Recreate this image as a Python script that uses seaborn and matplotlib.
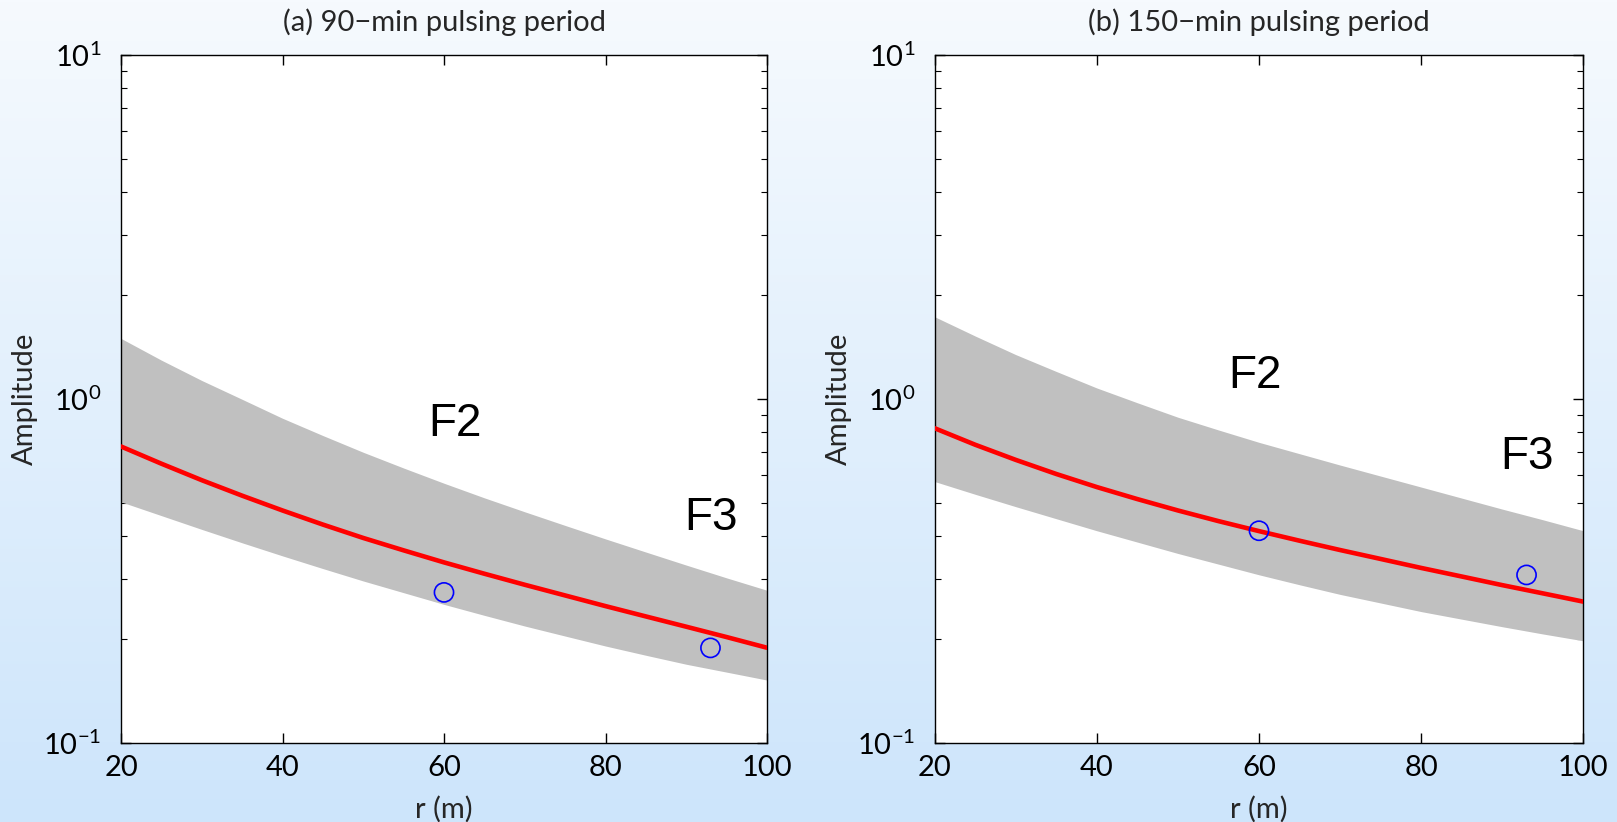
import numpy as np
import pandas as pd
import matplotlib
matplotlib.use("Agg")
import matplotlib.pyplot as plt
import seaborn as sns
from matplotlib.colors import LinearSegmentedColormap
from matplotlib.ticker import LogLocator, FixedLocator

# Radial distance grid (m)
r_grid = [20, 25, 30, 35, 40, 45, 50, 55, 60, 65, 70, 75, 80, 85, 90, 95, 100]

# (a) 90-min pulsing period: fitted amplitude and its uncertainty band
amp_a_fit = [0.7278, 0.6486, 0.5808, 0.5236, 0.4742, 0.4315, 0.3945, 0.3631,
             0.3350, 0.3105, 0.2884, 0.2685, 0.2500, 0.2333, 0.2178, 0.2032,
             0.1892]
amp_a_upper = [1.500, 1.297, 1.132, 0.998, 0.879, 0.783, 0.700, 0.630,
               0.569, 0.516, 0.470, 0.429, 0.392, 0.359, 0.329, 0.302, 0.278]
amp_a_lower = [0.5023, 0.4581, 0.4178, 0.3819, 0.3499, 0.3214, 0.2958, 0.2735,
               0.2529, 0.2350, 0.2188, 0.2046, 0.1914, 0.1799, 0.1694, 0.1607,
               0.1524]

# (b) 150-min pulsing period
amp_b_fit = [0.8222, 0.7362, 0.6653, 0.6053, 0.5546, 0.5117, 0.4742, 0.4416,
             0.4130, 0.3873, 0.3639, 0.3428, 0.3228, 0.3048, 0.2877, 0.2723,
             0.2576]
amp_b_upper = [1.7338, 1.5241, 1.3459, 1.2023, 1.0765, 0.9750, 0.8851, 0.8128,
               0.7482, 0.6934, 0.6427, 0.5970, 0.5546, 0.5152, 0.4786, 0.4457,
               0.4140]
amp_b_lower = [0.5754, 0.5284, 0.4864, 0.4487, 0.4140, 0.3837, 0.3556, 0.3311,
               0.3083, 0.2884, 0.2704, 0.2553, 0.2410, 0.2291, 0.2178, 0.2075,
               0.1982]

# Observation wells F2 and F3
well_names = ["F2", "F3"]
well_r = [60, 93]
obs_a = [0.274, 0.189]
obs_b = [0.414, 0.308]

# Well label anchor positions (r, amplitude)
label_pos_a = [(61.4, 0.846), (93.1, 0.45)]
label_pos_b = [(59.5, 1.168), (93.0, 0.68)]

titles = ["(a) 90\u2212min pulsing period", "(b) 150\u2212min pulsing period"]
x_ticks = [20, 40, 60, 80, 100]

sns.set_style("ticks")
plt.rcParams["font.family"] = ["Lato", "DejaVu Sans"]
plt.rcParams["mathtext.fontset"] = "custom"
plt.rcParams["mathtext.rm"] = "Lato"
plt.rcParams["mathtext.default"] = "regular"

fig = plt.figure(figsize=(16.17, 8.22), dpi=100)

# Soft vertical gradient behind both panels
bg = fig.add_axes([0, 0, 1, 1], zorder=-10)
grad = np.linspace(0, 1, 256).reshape(-1, 1)
cmap = LinearSegmentedColormap.from_list("bgblue", ["#f6fafe", "#cde5fb"])
bg.imshow(grad, aspect="auto", cmap=cmap, extent=[0, 1, 0, 1], origin="upper")
bg.set_axis_off()

panels = [
    (amp_a_fit, amp_a_upper, amp_a_lower, obs_a, label_pos_a, titles[0]),
    (amp_b_fit, amp_b_upper, amp_b_lower, obs_b, label_pos_b, titles[1]),
]
axes_rects = [[121 / 1617, 1 - 743 / 822, 646 / 1617, 688 / 822],
              [934.7 / 1617, 1 - 743 / 822, 648.6 / 1617, 688 / 822]]

for rect, (fit, upper, lower, obs, lpos, title) in zip(axes_rects, panels):
    ax = fig.add_axes(rect)
    ax.set_facecolor("white")
    df = pd.DataFrame({"r": r_grid, "fit": fit, "upper": upper, "lower": lower})
    ax.fill_between(df["r"], df["lower"], df["upper"], color="#c0c0c0",
                    linewidth=0, zorder=1)
    sns.lineplot(data=df, x="r", y="fit", color="#ff0000", linewidth=3.3,
                 ax=ax, zorder=3)
    obs_df = pd.DataFrame({"r": well_r, "amp": obs, "well": well_names})
    sns.scatterplot(data=obs_df, x="r", y="amp", marker="o", s=190,
                    facecolor="none", edgecolor="#0000ff", linewidth=1.2,
                    ax=ax, zorder=4)
    for name, (lx, ly) in zip(well_names, lpos):
        ax.text(lx, ly, name, fontsize=33, family="Liberation Sans",
                ha="center", va="center", color="black", zorder=5)

    ax.set_yscale("log")
    ax.set_xlim(20, 100)
    ax.set_ylim(0.1, 10)
    ax.xaxis.set_major_locator(FixedLocator(x_ticks))
    ax.yaxis.set_major_locator(LogLocator(base=10, numticks=10))
    ax.yaxis.set_minor_locator(LogLocator(base=10, subs=np.arange(2, 10), numticks=10))
    ax.tick_params(axis="both", which="both", direction="in", top=True,
                   right=True, colors="black", labelsize=21)
    ax.tick_params(axis="x", which="major", length=7, width=1, pad=9)
    ax.tick_params(axis="y", which="major", length=7, width=1, pad=14)
    ax.tick_params(axis="y", which="minor", length=4, width=0.8)
    for sp in ax.spines.values():
        sp.set_visible(True)
        sp.set_color("black")
        sp.set_linewidth(1.0)

    ax.set_xlabel("r (m)", fontsize=21)
    ax.set_ylabel("Amplitude", fontsize=21)
    ax.xaxis.set_label_coords(0.5, -0.097)
    ax.xaxis.label.set_va("center")
    ax.yaxis.set_label_coords(-0.148, 0.5)
    ax.yaxis.label.set_va("center")
    ax.set_title(title, fontsize=21, pad=17)

fig.savefig("out.png", dpi=100)
